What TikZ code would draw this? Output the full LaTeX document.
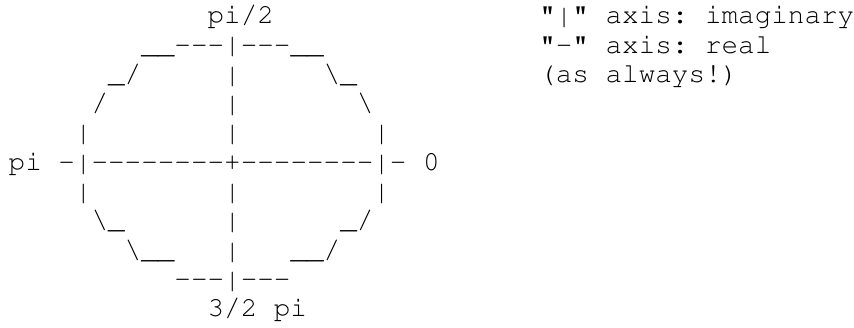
\documentclass[tikz,border=0pt]{standalone}
\usepackage[T1,TU]{fontenc}
\usepackage{graphicx}
% Courier (URW Nimbus Mono) for the character sketch
\newcommand\asciifont{\fontencoding{T1}\fontfamily{pcr}\fontseries{m}\fontshape{n}\fontsize{27.63}{29.3}\selectfont}
% the vertical bar, stretched to reach from 7.6pt below the baseline to 19pt above it
\newcommand\vb{\raisebox{-7.6pt}{\resizebox*{16.578pt}{26.6pt}{\raisebox{\depth}{|}}}}
% one hyphen that never joins its neighbour into a dash ligature
\newcommand\hy{-{}}
\newcommand\bs{\textbackslash}
\begin{document}
\begin{tikzpicture}[x=1pt,y=1pt,
  asciiline/.style={anchor=base west, inner sep=0pt, outer sep=0pt, font=\asciifont}]
\useasboundingbox (0,0) rectangle (854,328);
% column 0 starts at x = 8.7, one character is 16.58 wide, rows are 29.3 apart
\def\colx{8.7}
\def\notex{539.3}
\node[asciiline] (r0)  at (\colx,{328-23.8-0*29.3})  {~~~~~~~~~~~~pi/2};
\node[asciiline] (r1)  at (\colx,{328-23.8-1*29.3})  {~~~~~~~~\_\_\hy\hy\hy\vb\hy\hy\hy\_\_};
\node[asciiline] (r2)  at (\colx,{328-23.8-2*29.3})  {~~~~~~\_/~~~~~\vb~~~~~\bs\_};
\node[asciiline] (r3)  at (\colx,{328-23.8-3*29.3})  {~~~~~/~~~~~~~\vb~~~~~~~\bs};
\node[asciiline] (r4)  at (\colx,{328-23.8-4*29.3})  {~~~~\vb~~~~~~~~\vb~~~~~~~~\vb};
\node[asciiline] (r5)  at (\colx,{328-23.8-5*29.3})  {pi~\hy\vb\hy\hy\hy\hy\hy\hy\hy\hy+\hy\hy\hy\hy\hy\hy\hy\hy\vb\hy~0};
\node[asciiline] (r6)  at (\colx,{328-23.8-6*29.3})  {~~~~\vb~~~~~~~~\vb~~~~~~~~\vb};
\node[asciiline] (r7)  at (\colx,{328-23.8-7*29.3})  {~~~~~\bs\_~~~~~~\vb~~~~~~\_/};
\node[asciiline] (r8)  at (\colx,{328-23.8-8*29.3})  {~~~~~~~\bs\_\_~~~\vb~~~\_\_/};
\node[asciiline] (r9)  at (\colx,{328-23.8-9*29.3})  {~~~~~~~~~~\hy\hy\hy\vb\hy\hy\hy};
\node[asciiline] (r10) at (\colx,{328-23.8-10*29.3}) {~~~~~~~~~~~~3/2~pi};
% legend beside the circle, starting at column 32
\node[asciiline] (note1) at (\notex,{328-23.8-0*29.3}) {"\vb"~axis:~imaginary};
\node[asciiline] (note2) at (\notex,{328-23.8-1*29.3}) {"\hy"~axis:~real};
\node[asciiline] (note3) at (\notex,{328-23.8-2*29.3}) {(as~always!)};
\end{tikzpicture}
\end{document}
